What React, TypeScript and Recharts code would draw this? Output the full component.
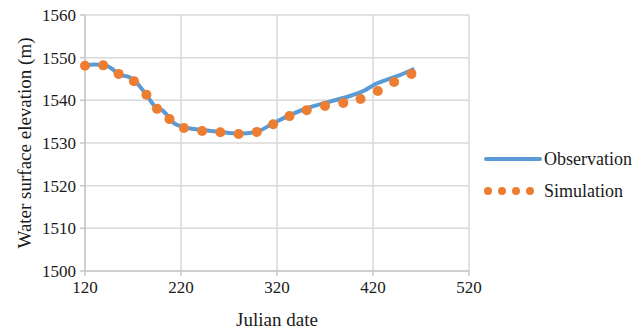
import { ComposedChart, Line, Scatter, XAxis, YAxis, CartesianGrid, Legend } from "recharts";

const obsDates = [120, 130, 140, 148, 156, 164, 171, 178, 186, 194, 201, 206, 213, 222, 240, 260, 280, 298, 316, 334, 352, 370, 390, 412, 420, 434, 448, 463];
const obsElev = [1548.1, 1548.4, 1548.3, 1547.4, 1546.0, 1545.6, 1544.8, 1543.0, 1540.6, 1538.3, 1537.6, 1536.4, 1534.6, 1533.8, 1533.1, 1532.6, 1532.2, 1532.6, 1534.6, 1536.6, 1538.2, 1539.4, 1540.6, 1542.4, 1543.5, 1544.8, 1545.9, 1547.4];

const simDates = [120, 139, 155, 171, 184, 195, 208, 223, 242, 261, 280, 299, 316, 333, 351, 370, 389, 407, 425, 442, 460];
const simElev = [1548.1, 1548.2, 1546.2, 1544.5, 1541.3, 1538.0, 1535.6, 1533.5, 1532.8, 1532.5, 1532.1, 1532.6, 1534.4, 1536.3, 1537.7, 1538.7, 1539.4, 1540.3, 1542.2, 1544.3, 1546.2];

const xTicks = [120, 220, 320, 420, 520];
const yTicks = [1500, 1510, 1520, 1530, 1540, 1550, 1560];

const obsData = obsDates.map((x, i) => ({ x, y: obsElev[i] }));
const simData = simDates.map((x, i) => ({ x, y: simElev[i] }));

const BLUE = "#5B9BD5";
const ORANGE = "#ED7D31";
const FONT = "Liberation Serif";
const TEXT = "#1a1a1a";

const XTick = ({ x, y, payload }: any) => (
  <text x={x} y={y + 15} textAnchor="middle" fontSize={17} fontFamily={FONT} fill={TEXT}>
    {payload.value}
  </text>
);

const YTick = ({ x, y, payload }: any) => (
  <text x={x} y={y} dy="0.35em" textAnchor="end" fontSize={17} fontFamily={FONT} fill={TEXT}>
    {payload.value}
  </text>
);

const XLabel = ({ viewBox }: any) => (
  <text x={viewBox.x + viewBox.width / 2} y={326} textAnchor="middle" fontSize={19} fontFamily={FONT} fill={TEXT}>
    Julian date
  </text>
);

const YLabel = ({ viewBox }: any) => {
  const cy = viewBox.y + viewBox.height / 2;
  return (
    <text x={24} y={cy} dy="0.35em" transform={`rotate(-90, 24, ${cy})`} textAnchor="middle" fontSize={19} fontFamily={FONT} fill={TEXT}>
      Water surface elevation (m)
    </text>
  );
};

function LegendBox() {
  return (
    <svg width={164} height={60} style={{ display: "block" }}>
      <line x1={6} y1={14} x2={60} y2={14} stroke={BLUE} strokeWidth={4} strokeLinecap="round" />
      <text x={64} y={14} dy="0.35em" fontSize={18} fontFamily={FONT} fill={TEXT}>Observation</text>
      {[8, 22, 36, 50].map((cx) => (
        <circle key={cx} cx={cx} cy={46} r={4} fill={ORANGE} />
      ))}
      <text x={64} y={46} dy="0.35em" fontSize={18} fontFamily={FONT} fill={TEXT}>Simulation</text>
    </svg>
  );
}

export default function App() {
  return (
    <div style={{ position: "absolute", left: 0, top: 0, width: 644, height: 334, background: "#fff" }}>
      <ComposedChart width={644} height={334} margin={{ top: 15, right: 175, bottom: 33, left: 0 }}>
        <CartesianGrid stroke="#d9d9d9" strokeWidth={1.5} />
        <XAxis
          dataKey="x"
          type="number"
          domain={[120, 520]}
          ticks={xTicks}
          height={30}
          stroke="#c8c8c8"
          strokeWidth={1.5}
          tickSize={5}
          tick={<XTick />}
          label={<XLabel />}
        />
        <YAxis
          type="number"
          domain={[1500, 1560]}
          ticks={yTicks}
          width={85}
          stroke="#c8c8c8"
          strokeWidth={1.5}
          tickSize={5}
          tickMargin={4}
          tick={<YTick />}
          label={<YLabel />}
        />
        <Line
          data={obsData}
          dataKey="y"
          type="monotone"
          stroke={BLUE}
          strokeWidth={4}
          dot={false}
          isAnimationActive={false}
        />
        <Scatter
          data={simData}
          dataKey="y"
          fill={ORANGE}
          isAnimationActive={false}
          shape={(p: any) => <circle cx={p.cx} cy={p.cy} r={5} fill={ORANGE} />}
        />
        <Legend
          layout="horizontal"
          verticalAlign="middle"
          content={() => <LegendBox />}
          wrapperStyle={{ left: 480, top: 145, width: 164 }}
        />
      </ComposedChart>
    </div>
  );
}
